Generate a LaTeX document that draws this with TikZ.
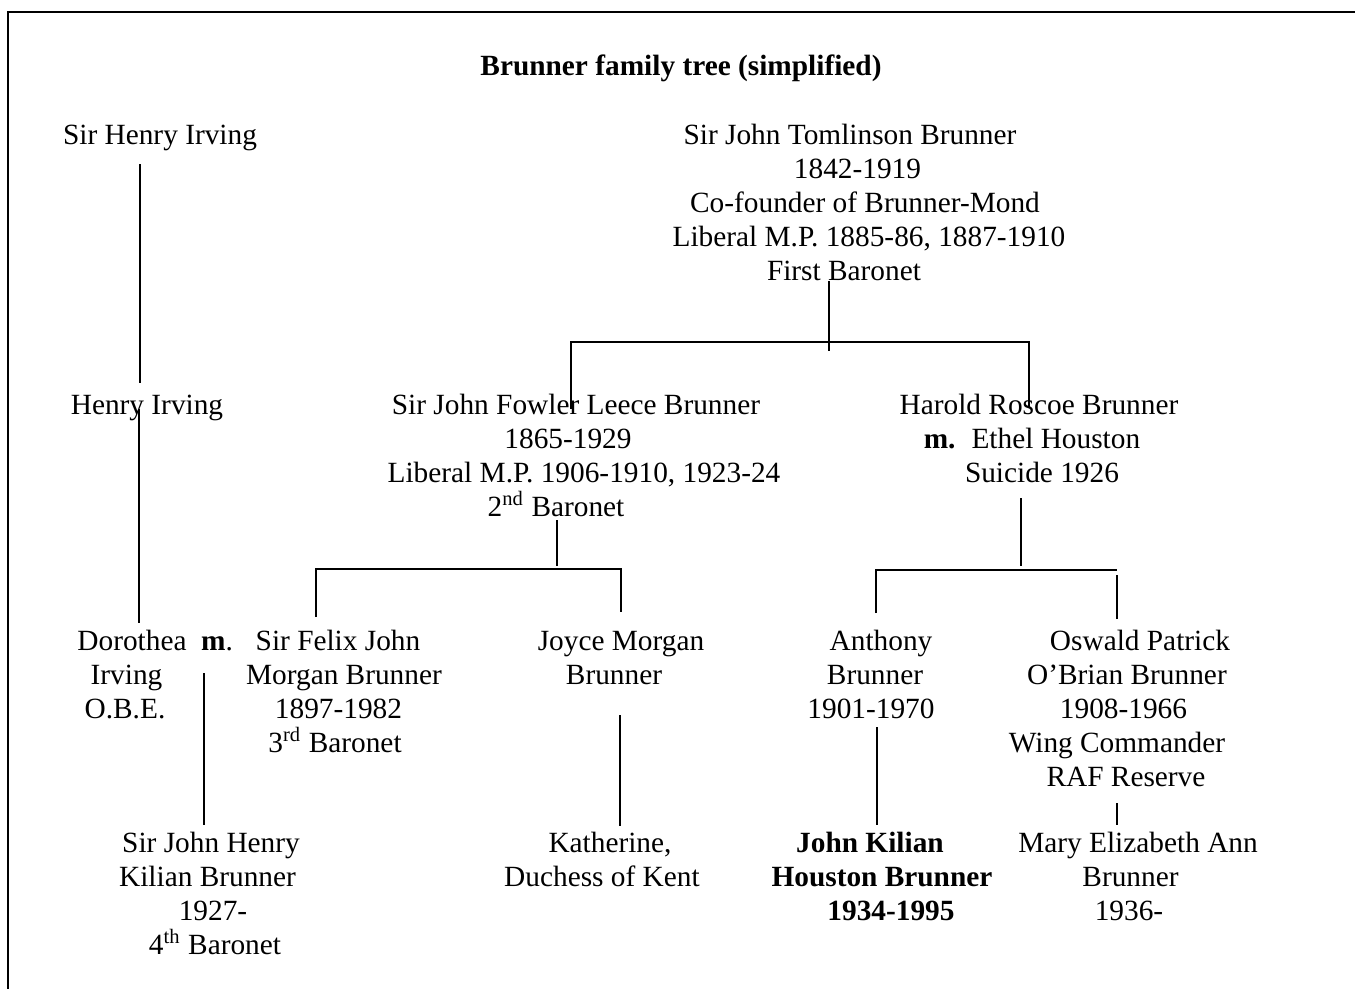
\documentclass[tikz,border=0pt]{standalone}
\usepackage{fontspec}
\setmainfont{Liberation Serif}
\newdimen\pxu \pxu=0.375pt
\newcommand{\off}[2]{\hspace*{#1\pxu}#2\hspace*{-#1\pxu}}
\tikzset{
person/.style={align=center, anchor=base, inner sep=0pt,
    font=\fontsize{11}{12.75}\selectfont},
link/.style={line width=0.75pt},
frame/.style={line width=1.1pt}
}

\begin{document}
\begin{tikzpicture}[x=0.375pt, y=-0.375pt]
	\useasboundingbox (0,0) rectangle (1355,989);
	\draw[frame] (8,989) -- (8,12) -- (1355,12);

	\node[person, font=\fontsize{11}{12.75}\selectfont\bfseries] (title) at (681,75) {Brunner family tree (simplified)};

	\node[person] (shi) at (160,144) {Sir Henry Irving};
	\node[person] (jtb) at (869,280) {\off{-19}{Sir John Tomlinson Brunner}\\ \off{-23}{1842-1919}\\
		\off{-8}{Co-founder of Brunner-Mond}\\ Liberal M.P. 1885-86, 1887-1910\\ \off{-25}{First Baronet}};

	\node[person] (hi) at (147,414) {Henry Irving};
	\node[person] (jflb) at (584,516) {\off{-8}{Sir John Fowler Leece Brunner}\\ \off{-32}{1865-1929}\\
		Liberal M.P. 1906-1910, 1923-24\\ \off{-28}{2\textsuperscript{nd} Baronet}};
	\node[person] (hrb) at (1039,482) {Harold Roscoe Brunner\\ \off{-14}{\textbf{m.}\hspace{6pt}Ethel Houston}\\ \off{3}{Suicide 1926}};

	\node[person] (di) at (132,718) {Dorothea\\ \off{-11}{Irving}\\ \off{-7}{O.B.E.}};
	\node[person] (marr) at (217,650) {\textbf{m}.};
	\node[person] (fjmb) at (344,752) {\off{-6}{Sir Felix John}\\ Morgan Brunner\\ \off{-11}{1897-1982}\\
		\off{-9}{3\textsuperscript{rd} Baronet}};
	\node[person] (jmb) at (621,684) {Joyce Morgan\\ \off{-7}{Brunner}};
	\node[person] (ab) at (871,718) {\off{10}{Anthony}\\ \off{8}{Brunner}\\ 1901-1970};
	\node[person] (opob) at (1117,786) {\off{23}{Oswald Patrick}\\ \off{20}{O’Brian Brunner}\\ \off{13}{1908-1966}\\
		Wing Commander\\ \off{9}{RAF Reserve}};

	\node[person] (jhkb) at (211,954) {Sir John Henry\\ \off{-7}{Kilian Brunner}\\ \off{4}{1927-}\\ \off{4}{4\textsuperscript{th} Baronet}};
	\node[person] (kdk) at (602,886) {\off{8}{Katherine,}\\ Duchess of Kent};
	\node[person, font=\fontsize{11}{12.75}\selectfont\bfseries] (jkhb) at (882,920) {\off{-12}{John Kilian}\\ Houston Brunner\\ \off{9}{1934-1995}};
	\node[person] (meab) at (1138,920) {Mary Elizabeth Ann\\ \off{-15}{Brunner}\\ \off{-9}{1936-}};

	\coordinate (shi-d) at (140,164); \coordinate (hi-u) at (140,383);
	\coordinate (hi-d) at (139,409); \coordinate (di-u) at (139,623);
	\coordinate (marr-d) at (204,673); \coordinate (jhkb-u) at (204,825);
	\coordinate (jtb-d) at (829,281); \coordinate (jtb-j) at (829,351);
	\coordinate (jflb-u) at (571,409); \coordinate (hrb-u) at (1029,407);
	\coordinate (jflb-d) at (557,520); \coordinate (jflb-j) at (557,566);
	\coordinate (fjmb-u) at (316,617); \coordinate (jmb-u) at (621,612);
	\coordinate (hrb-d) at (1021,498); \coordinate (hrb-j) at (1021,566);
	\coordinate (ab-u) at (876,613); \coordinate (opob-u) at (1117,619);
	\coordinate (jmb-d) at (620,715); \coordinate (kdk-u) at (620,826);
	\coordinate (ab-d) at (877,727); \coordinate (jkhb-u) at (877,825);
	\coordinate (opob-d) at (1117,803); \coordinate (meab-u) at (1117,825);

	\draw[link] (shi-d) -- (hi-u);
	\draw[link] (hi-d) -- (di-u);
	\draw[link] (marr-d) -- (jhkb-u);
	\draw[link] (jtb-d) -- (jtb-j);
	\draw[link] (jflb-u) |- (hrb-u |- 0,342) -- (hrb-u);
	\draw[link] (jflb-d) -- (jflb-j);
	\draw[link] (fjmb-u) |- (jmb-u |- 0,569) -- (jmb-u);
	\draw[link] (hrb-d) -- (hrb-j);
	\draw[link] (ab-u) |- (opob-u |- 0,570);
	\draw[link] (opob-u) -- ++(0,-44);
	\draw[link] (jmb-d) -- (kdk-u);
	\draw[link] (ab-d) -- (jkhb-u);
	\draw[link] (opob-d) -- (meab-u);
\end{tikzpicture}
\end{document}
